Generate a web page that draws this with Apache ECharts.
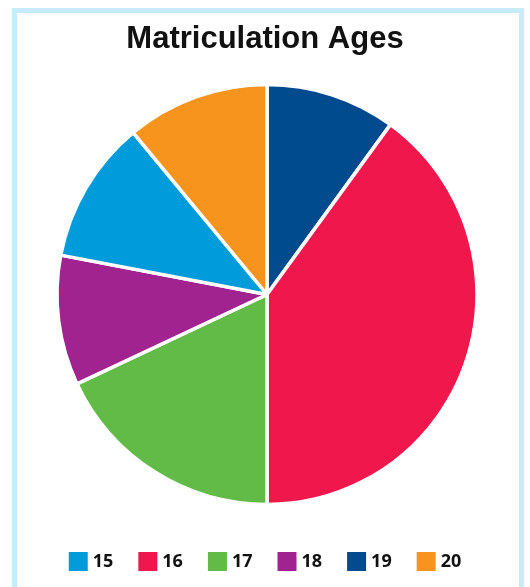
<!DOCTYPE html>
<html>
<head>
<meta charset="utf-8">
<script src="https://cdn.jsdelivr.net/npm/echarts@6/dist/echarts.min.js"></script>
<style>
  html, body { margin: 0; padding: 0; background: #ffffff; }
  #chart { width: 530px; height: 587px; }
</style>
</head>
<body>
<div id="chart"></div>
<script>
// Share of students by age at matriculation (percent)
const ages = ['15', '16', '17', '18', '19', '20'];
const shares = [11, 40, 18, 10, 10, 11];
const colors = ['#009bdb', '#ef174c', '#62bb46', '#a0238f', '#004b8d', '#f7941d'];

// Slices run clockwise from 12 o'clock in this order
const sliceOrder = ['19', '16', '17', '18', '15', '20'];

const pieData = sliceOrder.map(function (age) {
  const i = ages.indexOf(age);
  return { name: age, value: shares[i], itemStyle: { color: colors[i] } };
});

const chart = echarts.init(document.getElementById('chart'), null, { renderer: 'canvas' });

chart.setOption({
  backgroundColor: '#ffffff',
  animation: false,
  title: {
    text: 'Matriculation Ages',
    left: 'center',
    top: 24,
    padding: 0,
    textStyle: {
      fontFamily: 'Liberation Sans, Arial, sans-serif',
      fontWeight: 'bold',
      fontSize: 31,
      color: '#111111'
    }
  },
  graphic: [{
    type: 'rect',
    shape: { x: 14.5, y: 10.5, width: 507, height: 600 },
    style: { fill: 'none', stroke: '#c8ebfa', lineWidth: 5 },
    silent: true,
    z: 100
  }],
  legend: {
    data: ages,
    left: 'center',
    top: 552,
    padding: 0,
    icon: 'rect',
    itemWidth: 19,
    itemHeight: 19,
    itemGap: 25,
    itemStyle: { borderWidth: 0 },
    textStyle: {
      fontFamily: 'Open Sans, sans-serif',
      fontWeight: 'bold',
      fontSize: 18,
      color: '#111111'
    }
  },
  series: [{
    type: 'pie',
    center: [267, 294.5],
    radius: 210,
    startAngle: 90,
    clockwise: true,
    label: { show: false },
    labelLine: { show: false },
    itemStyle: { borderColor: '#ffffff', borderWidth: 3.5 },
    emphasis: { disabled: true },
    data: pieData
  }]
});
</script>
</body>
</html>
